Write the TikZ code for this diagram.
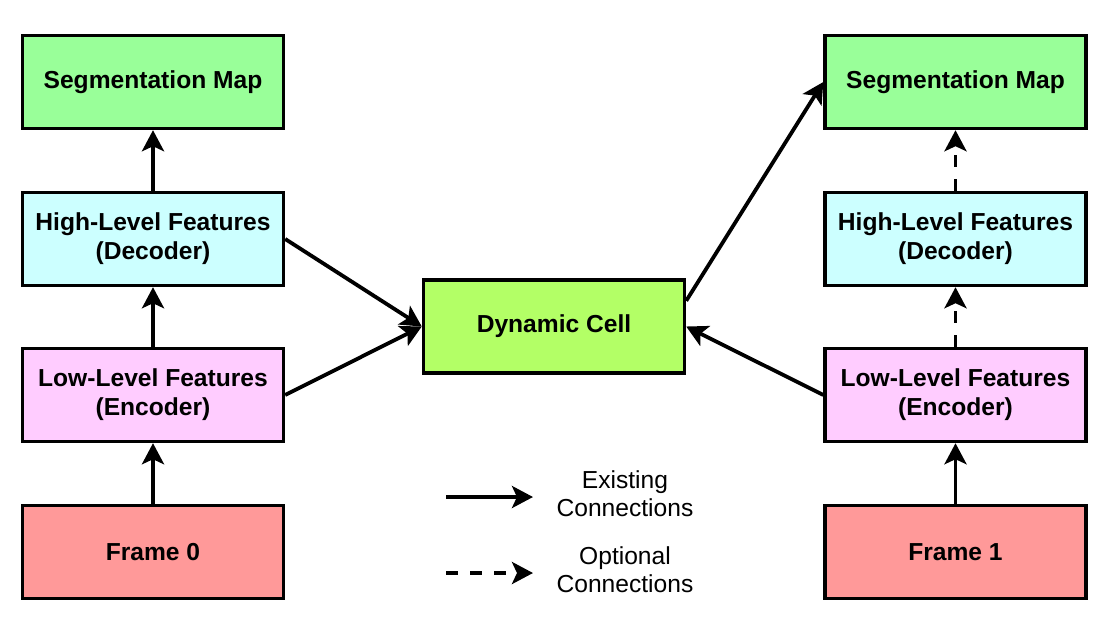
\documentclass[tikz,border=0pt]{standalone}
\usepackage{fontspec}
\setmainfont{Liberation Sans}
\usetikzlibrary{arrows.meta, positioning}

\definecolor{segGreen}{HTML}{99FF99}
\definecolor{decCyan}{HTML}{CCFFFF}
\definecolor{encPink}{HTML}{FFCCFF}
\definecolor{frameRed}{HTML}{FF9999}
\definecolor{cellGreen}{HTML}{B3FF66}

\begin{document}
\begin{tikzpicture}[x=0.5pt, y=-0.5pt,
  block/.style={draw, line width=1.7pt, minimum width=130.5pt, minimum height=46.5pt,
    inner sep=0pt, align=center, font=\fontsize{12.3}{14.5}\selectfont\bfseries},
  conn/.style={-{Stealth[length=10.5pt, width=11pt, inset=2.5pt]}, line width=1.9pt},
  opt/.style={conn, dash pattern=on 6pt off 6pt},
  legtext/.style={align=center, font=\fontsize{12.3}{14}\selectfont}]
\useasboundingbox (0,0) rectangle (1113,638);

% Frame 0 column
\node[block, fill=segGreen] (seg0) at (153,82) {Segmentation Map};
\node[block, fill=decCyan] (high0) at (153,239) {High-Level Features\\(Decoder)};
\node[block, fill=encPink] (low0) at (153,395) {Low-Level Features\\(Encoder)};
\node[block, fill=frameRed] (frame0) at (153,552) {Frame 0};

% Frame 1 column
\node[block, fill=segGreen] (seg1) at (955.5,82) {Segmentation Map};
\node[block, fill=decCyan] (high1) at (955.5,239) {High-Level Features\\(Decoder)};
\node[block, fill=encPink] (low1) at (955.5,395) {Low-Level Features\\(Encoder)};
\node[block, fill=frameRed] (frame1) at (955.5,552) {Frame 1};

% Middle
\node[block, fill=cellGreen] (cell) at (554,326.5) {Dynamic Cell};

\draw[conn] (frame0) -- (low0);
\draw[conn] (low0) -- (high0);
\draw[conn] (high0) -- (seg0);
\draw[conn] (high0.east) -- (cell.west);
\draw[conn] (low0.east) -- (cell.west);

\draw[conn] (frame1) -- (low1);
\draw[opt] (low1) -- (high1);
\draw[opt] (high1) -- (seg1);
\draw[conn] (low1.west) -- (cell.east);
\draw[conn] (cell.11) -- (seg1.west);

% Legend
\coordinate (solidA) at (446,497);
\coordinate (solidB) at (533,497);
\coordinate (dashA) at (446,573);
\coordinate (dashB) at (533,573);
\draw[conn] (solidA) -- (solidB);
\draw[opt] (dashA) -- (dashB);
\node[legtext] (existing) at (625,494) {Existing\\Connections};
\node[legtext] (optional) at (625,570) {Optional\\Connections};
\end{tikzpicture}
\end{document}
